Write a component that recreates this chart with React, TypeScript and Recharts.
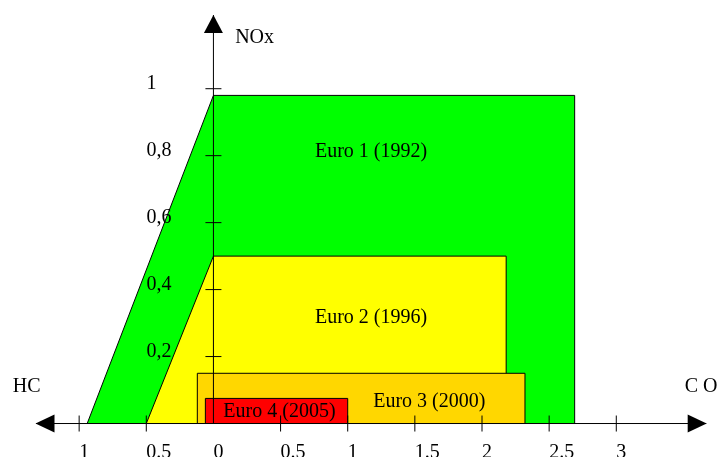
import React from 'react';
import { ComposedChart, Area, XAxis, YAxis, ReferenceLine, ReferenceDot } from 'recharts';

// limits: x < 0 is HC, x > 0 is CO, y is NOx (g/km)
const euro1 = [{ x: -0.94, y: 0 }, { x: 0, y: 0.98 }, { x: 2.69, y: 0.98 }, { x: 2.69, y: 0 }];
const euro2 = [{ x: -0.5, y: 0 }, { x: 0, y: 0.5 }, { x: 2.18, y: 0.5 }, { x: 2.18, y: 0 }];
const euro3 = [{ x: -0.12, y: 0 }, { x: -0.12, y: 0.15 }, { x: 2.32, y: 0.15 }, { x: 2.32, y: 0 }];
const euro4 = [{ x: -0.06, y: 0 }, { x: -0.06, y: 0.075 }, { x: 1.0, y: 0.075 }, { x: 1.0, y: 0 }];

const standardNames = ['Euro 1 (1992)', 'Euro 2 (1996)', 'Euro 3 (2000)', 'Euro 4 (2005)'];
const COLORS = ['#00FF00', '#FFFF00', '#FFD700', '#FF0000'];

const xTicks = [-1, -0.5, 0, 0.5, 1, 1.5, 2, 2.5, 3];
const xTickLabels = ['1', '0.5', '0', '0.5', '1', '1.5', '2', '2.5', '3'];
const yTicks = [0.2, 0.4, 0.6, 0.8, 1];
const yTickLabels = ['0,2', '0,4', '0,6', '0,8', '1'];

const FONT = '"Liberation Serif", "Times New Roman", serif';

const txt = (label: string, dx = 0, dy = 0) => (p: any) => (
  <text x={p.cx + dx} y={p.cy + dy} fontSize={20} fontFamily={FONT} fill="#000">{label}</text>
);

const arrow = (dir: 'left' | 'right' | 'up') => (p: any) => {
  const { cx, cy } = p;
  let pts = '';
  if (dir === 'left') pts = `${cx},${cy} ${cx + 19},${cy - 9} ${cx + 19},${cy + 9}`;
  if (dir === 'right') pts = `${cx},${cy} ${cx - 19},${cy - 9} ${cx - 19},${cy + 9}`;
  if (dir === 'up') pts = `${cx},${cy} ${cx - 9.5},${cy + 18} ${cx + 9.5},${cy + 18}`;
  return <polygon points={pts} fill="#000" />;
};

const xTickMark = (label: string, showLine: boolean) => (p: any) => (
  <g>
    {showLine && <line x1={p.cx} y1={p.cy - 8} x2={p.cx} y2={p.cy + 8} stroke="#000" />}
    <text x={p.cx} y={p.cy + 34} fontSize={20} fontFamily={FONT} fill="#000">{label}</text>
  </g>
);

const yTickMark = (label: string) => (p: any) => (
  <g>
    <line x1={p.cx - 8} y1={p.cy} x2={p.cx + 8} y2={p.cy} stroke="#000" />
    <text x={p.cx - 67} y={p.cy} fontSize={20} fontFamily={FONT} fill="#000">{label}</text>
  </g>
);

export default function App() {
  const series = [euro1, euro2, euro3, euro4];
  return (
    <div style={{ position: 'fixed', left: 0, top: 0 }}>
      <ComposedChart width={717} height={457} margin={{ top: 5, right: 0, bottom: 0, left: 12 }}>
        <XAxis type="number" dataKey="x" domain={[-1.5, 3.75]} hide allowDataOverflow />
        <YAxis type="number" dataKey="y" domain={[-0.1, 1.25]} hide allowDataOverflow />
        {series.map((d, i) => (
          <Area
            key={standardNames[i]}
            data={d}
            dataKey="y"
            type="linear"
            baseValue={0}
            fill={COLORS[i]}
            fillOpacity={1}
            stroke="#000"
            strokeWidth={1}
            dot={false}
            activeDot={false}
            isAnimationActive={false}
          />
        ))}
        <ReferenceLine segment={[{ x: -1.32, y: 0 }, { x: 3.67, y: 0 }]} stroke="#000" />
        <ReferenceLine segment={[{ x: 0, y: 0 }, { x: 0, y: 1.22 }]} stroke="#000" />
        <ReferenceDot x={-1.325} y={0} shape={arrow('left')} />
        <ReferenceDot x={3.673} y={0} shape={arrow('right')} />
        <ReferenceDot x={0} y={1.22} shape={arrow('up')} />
        {xTicks.map((t, i) => (
          <ReferenceDot key={`xt-${i}`} x={t} y={0} shape={xTickMark(xTickLabels[i], t !== 0)} />
        ))}
        {yTicks.map((t, i) => (
          <ReferenceDot key={`yt-${i}`} x={0} y={t} shape={yTickMark(yTickLabels[i])} />
        ))}
        <ReferenceDot x={0.756} y={0.797} shape={txt(standardNames[0])} />
        <ReferenceDot x={0.756} y={0.299} shape={txt(standardNames[1])} />
        <ReferenceDot x={1.19} y={0.05} shape={txt(standardNames[2])} />
        <ReferenceDot x={0.074} y={0.02} shape={txt(standardNames[3])} />
        <ReferenceDot x={0.162} y={1.136} shape={txt('NOx')} />
        <ReferenceDot x={-1.494} y={0.095} shape={txt('HC')} />
        <ReferenceDot x={3.51} y={0.095} shape={txt('C O')} />
      </ComposedChart>
    </div>
  );
}
